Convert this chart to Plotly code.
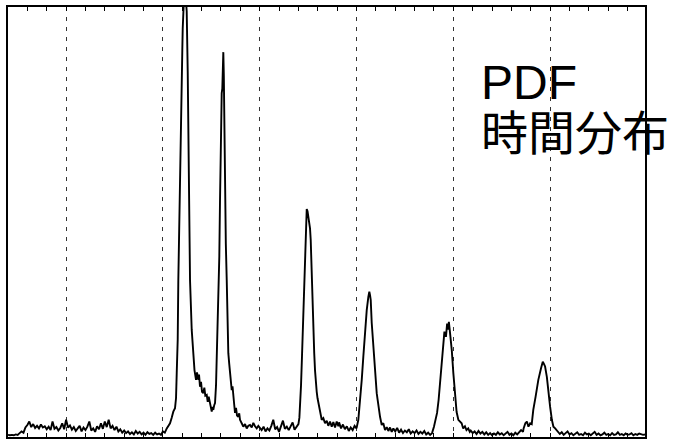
import plotly.graph_objects as go

# Time-of-flight histogram: counts per time bin (arbitrary units), grouped by region.
# Leading baseline before the first peak
t_lead = [0.0, 0.1, 0.2, 0.3, 0.4, 0.5, 0.6, 0.7, 0.8, 0.9,
          1.0, 1.1, 1.2, 1.3, 1.4, 1.5, 1.6, 1.7, 1.8, 1.9,
          2.0, 2.1, 2.2, 2.3, 2.4, 2.5, 2.6, 2.7, 2.8, 2.9,
          3.0, 3.1, 3.2, 3.3, 3.4, 3.5, 3.6, 3.7, 3.8, 3.9,
          4.0, 4.1, 4.2, 4.3, 4.4, 4.5, 4.6, 4.7, 4.8, 4.9,
          5.0, 5.1, 5.2, 5.3, 5.4, 5.5, 5.6, 5.7, 5.8, 5.9,
          6.0, 6.1, 6.2, 6.3, 6.4, 6.5, 6.6, 6.7, 6.8, 6.9,
          7.0, 7.1, 7.2, 7.3, 7.4, 7.5, 7.6, 7.7, 7.8, 7.9,
          8.0, 8.1, 8.2]
n_lead = [0.5, 0.4, 0.5, 0.4, 0.6, 0.5, 0.9, 1.3, 1.0, 2.2,
          2.8, 3.6, 2.3, 3.0, 2.1, 2.6, 2.0, 2.9, 2.2, 2.5,
          1.8, 2.4, 1.6, 3.6, 1.9, 2.3, 1.5, 2.1, 3.2, 1.8,
          4.0, 2.2, 2.7, 1.7, 2.3, 1.4, 2.0, 2.6, 1.3, 2.2,
          1.6, 2.4, 3.6, 1.5, 2.0, 1.2, 2.5, 1.8, 3.2, 1.9,
          3.6, 2.3, 4.0, 2.0, 2.6, 1.6, 2.4, 1.3, 1.8, 1.0,
          1.5, 0.9, 1.3, 0.7, 1.1, 0.6, 1.4, 0.8, 1.2, 0.6,
          1.0, 0.5, 1.1, 0.7, 0.9, 0.5, 1.0, 0.6, 0.8, 0.5,
          1.3, 1.0, 2.0]

# First two peaks with the tail between them
t_p12 = [8.368, 8.455, 8.538, 8.626, 8.678, 8.714, 8.765, 8.797, 8.833, 8.884,
         8.936, 8.972, 9.003, 9.024, 9.055, 9.106, 9.168, 9.230, 9.282, 9.313,
         9.360, 9.401, 9.489, 9.571, 9.633, 9.711, 9.762, 9.829, 9.866, 9.917,
         9.969, 10.021, 10.088, 10.140, 10.191, 10.264, 10.315, 10.367, 10.434, 10.486,
         10.522, 10.563, 10.604, 10.651, 10.692, 10.744, 10.780, 10.821, 10.862, 10.914,
         10.950, 10.986, 11.017, 11.038, 11.069, 11.095, 11.121, 11.147, 11.167, 11.209,
         11.250, 11.297, 11.338, 11.379, 11.426, 11.467, 11.508, 11.555, 11.596, 11.637,
         11.684, 11.725, 11.777, 11.829, 11.896, 11.942, 11.983, 12.071, 12.154, 12.242,
         12.330, 12.412, 12.500, 12.588, 12.671, 12.758, 12.846, 12.929]
n_p12 = [3.2, 4.5, 5.9, 6.7, 9.0, 14.8, 22.6, 36.5, 48.0, 62.0,
         74.0, 85.0, 90.0, 95.0, 100.0, 104.0, 103.0, 99.0, 85.0, 74.0,
         52.0, 36.5, 24.9, 18.7, 15.5, 13.3, 15.0, 13.3, 14.5, 11.7,
         12.8, 10.5, 10.2, 11.5, 9.6, 9.8, 8.2, 9.4, 7.9, 6.2,
         5.9, 7.0, 6.3, 7.4, 7.9, 12.0, 17.2, 24.0, 32.6, 42.0,
         55.0, 68.0, 76.0, 80.0, 81.0, 86.0, 89.5, 84.0, 74.0, 58.0,
         45.0, 36.5, 26.0, 19.5, 17.0, 14.9, 12.5, 10.9, 11.8, 8.6,
         7.5, 5.6, 6.8, 5.0, 4.7, 5.5, 4.0, 3.2, 2.4, 3.0,
         2.0, 2.6, 2.8, 2.2, 3.3, 2.5, 2.0, 2.6]

t_gap1 = [13.0, 13.1, 13.2, 13.3, 13.4, 13.5, 13.6, 13.7, 13.8, 13.9,
          14.0, 14.1, 14.2, 14.3, 14.4, 14.5, 14.6, 14.7, 14.8, 14.9,
          15.0]
n_gap1 = [2.2, 1.6, 2.4, 1.3, 2.0, 1.5, 2.6, 4.0, 1.8, 2.3,
          1.2, 2.5, 3.8, 1.9, 2.4, 1.6, 2.7, 3.4, 1.7, 2.5,
          3.0]

# Third peak
t_p3 = [15.050, 15.083, 15.134, 15.186, 15.238, 15.289, 15.341, 15.393, 15.429, 15.470,
        15.512, 15.563, 15.599, 15.635, 15.687, 15.728, 15.770, 15.816, 15.857, 15.899,
        15.945, 15.987, 16.028, 16.074, 16.116, 16.203, 16.286, 16.374, 16.462, 16.544,
        16.632, 16.720, 16.803, 16.891, 16.978, 17.061]
n_p3 = [4.5, 7.0, 12.0, 19.0, 26.0, 33.0, 40.0, 48.0, 53.0, 52.5,
        51.0, 49.7, 48.5, 45.8, 37.0, 30.0, 24.0, 19.5, 15.5, 12.5,
        10.5, 9.0, 7.9, 6.5, 5.6, 4.0, 4.4, 3.2, 3.8, 2.6,
        3.6, 2.4, 3.5, 2.2, 3.6, 2.5]

t_gap2 = [17.1, 17.2, 17.3, 17.4, 17.5, 17.6, 17.7, 17.8, 17.9, 18.0]
n_gap2 = [3.4, 2.0, 2.9, 1.8, 2.5, 1.4, 2.2, 1.6, 2.6, 2.0]

# Fourth peak
t_p4 = [18.094, 18.182, 18.270, 18.352, 18.440, 18.528, 18.611, 18.662, 18.698, 18.734,
        18.786, 18.827, 18.869, 18.915, 18.957, 18.998, 19.044, 19.086, 19.127, 19.174,
        19.215, 19.303, 19.385, 19.473, 19.561, 19.644, 19.731, 19.819, 19.902]
n_p4 = [4.0, 7.9, 13.3, 18.7, 24.9, 29.5, 32.6, 33.8, 33.0, 31.9,
        26.5, 23.5, 21.0, 18.0, 15.6, 12.5, 10.2, 8.8, 7.0, 5.5,
        4.7, 2.8, 3.2, 1.6, 2.3, 1.4, 2.2, 1.2, 2.0]

t_gap3 = [20.0, 20.1, 20.2, 20.3, 20.4, 20.5, 20.6, 20.7, 20.8, 20.9,
          21.0, 21.1, 21.2, 21.3, 21.4, 21.5, 21.6, 21.7, 21.8, 21.9]
n_gap3 = [1.3, 2.1, 1.0, 1.7, 0.9, 1.5, 1.1, 1.8, 0.8, 1.3,
          0.9, 1.5, 0.7, 1.2, 0.8, 1.4, 0.6, 1.0, 0.5, 0.9]

# Fifth peak
t_p5 = [22.00, 22.07, 22.16, 22.24, 22.32, 22.40, 22.48, 22.54, 22.62, 22.68,
        22.74, 22.77, 22.83, 22.92, 23.00, 23.09, 23.17, 23.26, 23.34, 23.43,
        23.51, 23.60, 23.68, 23.77, 23.85]
n_p5 = [2.4, 4.0, 5.6, 8.6, 12.5, 16.4, 21.8, 24.5, 23.3, 26.4,
        25.0, 26.8, 24.2, 20.2, 14.9, 9.4, 5.8, 4.0, 3.6, 3.2,
        2.0, 2.5, 1.6, 2.0, 1.2]

t_gap4 = [23.9, 24.0, 24.1, 24.2, 24.3, 24.4, 24.5, 24.6, 24.7, 24.8,
          24.9, 25.0, 25.1, 25.2, 25.3, 25.4, 25.5, 25.6, 25.7, 25.8,
          25.9, 26.0, 26.1, 26.2, 26.3, 26.4, 26.5, 26.6]
n_gap4 = [1.5, 0.9, 1.3, 0.7, 1.4, 0.8, 1.2, 0.6, 1.1, 0.5,
          0.9, 0.4, 0.8, 0.5, 1.1, 0.6, 0.9, 0.4, 0.7, 1.2,
          0.5, 0.8, 0.4, 1.0, 0.6, 1.2, 1.6, 1.2]

# Sixth peak
t_p6 = [26.63, 26.72, 26.80, 26.88, 26.97, 27.05, 27.13, 27.25, 27.39, 27.53,
        27.62, 27.68, 27.74, 27.83, 27.91, 28.00, 28.09, 28.17, 28.26, 28.35]
n_p6 = [2.0, 3.2, 3.6, 2.4, 3.2, 3.0, 6.3, 9.4, 13.3, 16.0,
        17.5, 17.0, 16.4, 14.0, 10.2, 7.0, 4.0, 2.4, 2.0, 1.6]

# Trailing baseline
t_tail = [28.4, 28.5, 28.6, 28.7, 28.8, 28.9, 29.0, 29.1, 29.2, 29.3,
          29.4, 29.5, 29.6, 29.7, 29.8, 29.9, 30.0, 30.1, 30.2, 30.3,
          30.4, 30.5, 30.6, 30.7, 30.8, 30.9, 31.0, 31.1, 31.2, 31.3,
          31.4, 31.5, 31.6, 31.7, 31.8, 31.9, 32.0, 32.1, 32.2, 32.3,
          32.4, 32.5, 32.6, 32.7, 32.8, 32.9]
n_tail = [1.2, 0.7, 1.1, 0.5, 0.9, 1.3, 0.6, 0.9, 0.4, 0.8,
          1.1, 0.5, 0.7, 0.4, 1.0, 0.6, 0.8, 0.4, 0.7, 1.2,
          0.5, 0.8, 0.4, 0.6, 1.0, 0.5, 0.7, 0.4, 0.9, 0.5,
          0.6, 1.1, 0.5, 0.7, 0.4, 0.8, 0.5, 0.6, 0.9, 0.4,
          0.7, 0.5, 0.8, 0.6, 0.5, 0.6]

# Dashed reference lines and axis extent
grid_times = [3, 8, 13, 18, 23, 28]
t_range = [0, 32.9]
count_range = [0, 100]

label_lines = ["PDF", "時間分布"]

segments = [(t_lead, n_lead), (t_p12, n_p12), (t_gap1, n_gap1), (t_p3, n_p3),
            (t_gap2, n_gap2), (t_p4, n_p4), (t_gap3, n_gap3), (t_p5, n_p5),
            (t_gap4, n_gap4), (t_p6, n_p6), (t_tail, n_tail)]
time_all, counts_all = [], []
for ts, ns in segments:
    assert len(ts) == len(ns), (len(ts), len(ns))
    time_all += ts
    counts_all += ns

fig = go.Figure()
fig.add_trace(go.Scatter(
    x=time_all, y=counts_all, mode="lines",
    line=dict(color="black", width=1.9),
    showlegend=False, hoverinfo="skip",
))

fig.update_layout(
    width=673, height=440,
    margin=dict(l=8, r=28, t=7, b=3),
    paper_bgcolor="white", plot_bgcolor="white",
    showlegend=False,
)

fig.update_xaxes(
    range=t_range, showticklabels=False,
    tickmode="array", tickvals=grid_times,
    ticks="inside", ticklen=4, tickwidth=1, tickcolor="black",
    showgrid=True, gridcolor="#333333", gridwidth=1, griddash="4px,6px",
    minor=dict(dtick=1, tick0=0, ticks="inside", ticklen=4, tickwidth=1,
               tickcolor="black", showgrid=False),
    showline=True, linecolor="black", linewidth=2, mirror="allticks",
    zeroline=False,
)
fig.update_yaxes(
    range=count_range, showticklabels=False, ticks="",
    showgrid=False, zeroline=False,
    showline=True, linecolor="black", linewidth=2, mirror=True,
)

# Two-line label: Latin line and Japanese line in one text block
label_html = (
    f'<span style="font-size:48px">{label_lines[0]}</span><br>'
    f'<span style="font-size:47px">{label_lines[1]}</span>'
)
fig.add_annotation(
    text=label_html, xref="paper", yref="paper",
    x=0.7394, y=0.764, xanchor="left", yanchor="middle", align="left",
    showarrow=False,
    font=dict(family="Liberation Sans, Noto Sans CJK JP, sans-serif",
              size=39, color="black"),
)

fig.write_html("out.html")
